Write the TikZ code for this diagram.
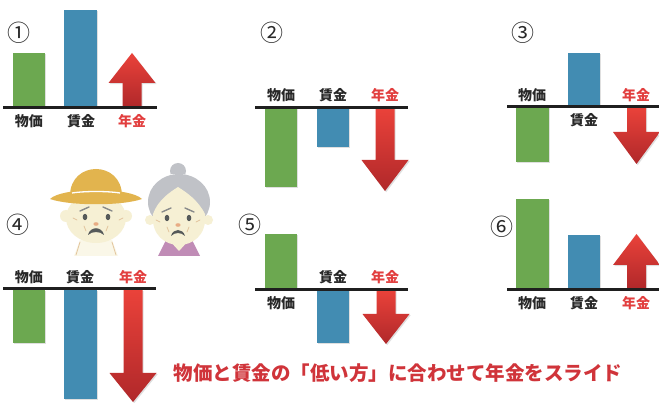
\documentclass[tikz,border=0pt]{standalone}
\usepackage{fontspec}
\setmainfont{Noto Sans CJK JP}
\usetikzlibrary{shadows}

\definecolor{bukkagreen}{RGB}{108,168,80}
\definecolor{chinginblue}{RGB}{66,140,178}
\definecolor{arrowtop}{RGB}{234,66,58}
\definecolor{arrowbot}{RGB}{176,40,42}
\definecolor{nenkinred}{RGB}{226,62,62}
\definecolor{slogred}{RGB}{208,52,58}
\definecolor{inkgray}{RGB}{40,40,40}
\definecolor{skin}{RGB}{246,240,212}
\definecolor{shirt}{RGB}{250,247,232}
\definecolor{hatyellow}{RGB}{226,180,78}
\definecolor{hairgray}{RGB}{192,194,199}
\definecolor{collarpurple}{RGB}{192,140,182}
\definecolor{eyegray}{RGB}{86,90,90}
\definecolor{nosetan}{RGB}{232,172,132}
\definecolor{wrinkle}{RGB}{226,196,156}

% pension arrow: centre x, start y, head base y, tip y
\def\nenkinarrow(#1,#2,#3,#4){\path[arrowbody] ({#1-9.5},#2) -- ({#1-9.5},#3) -- ({#1-23.5},#3) -- (#1,#4) -- ({#1+23.5},#3) -- ({#1+9.5},#3) -- ({#1+9.5},#2) -- cycle;}

\begin{document}
\begin{tikzpicture}[x=1pt,y=-1pt,
	lbl/.style={font=\bfseries\fontsize{14}{14}\selectfont, text=inkgray, inner sep=0pt},
	lblred/.style={lbl, text=nenkinred},
	num/.style={font=\fontsize{23}{23}\selectfont, text=inkgray, inner sep=0pt},
	slogan/.style={font=\bfseries\fontsize{19.5}{19.5}\selectfont, text=slogred, inner sep=0pt},
	axisline/.style={line width=3pt, color=black!88},
	barshadow/.style={drop shadow={shadow xshift=1.2pt, shadow yshift=-1.2pt, opacity=0.25}},
	bargreen/.style={fill=bukkagreen, barshadow},
	barblue/.style={fill=chinginblue, barshadow},
	arrowbody/.style={top color=arrowtop, bottom color=arrowbot, barshadow},
	brow/.style={line width=1.4pt, color=eyegray!70, line cap=round},
	lines/.style={line width=0.8pt, color=wrinkle, line cap=round}]
	%%%%% START %%%%%
	\fill[white] (0,0) rectangle (659,403);
	\useasboundingbox (0,0) rectangle (659,403);
	
	% (1) prices up, wages up more
	\node[num] (n1) at (19,33) {①};
	\fill[bargreen] (13,53) rectangle (45,107);
	\fill[barblue] (64,10) rectangle (97,107);
	\nenkinarrow(132,107,83,53)
	\draw[axisline] (3,108) -- (157,108);
	\node[lbl] (bukka1) at (29,121) {物価};
	\node[lbl] (chingin1) at (81,121) {賃金};
	\node[lblred] (nenkin1) at (132,121) {年金};
	
	% (2) both down
	\node[num] (n2) at (272,33) {②};
	\fill[bargreen] (265,108) rectangle (297,187);
	\fill[barblue] (317,108) rectangle (349,147);
	\nenkinarrow(385,108,160,191)
	\draw[axisline] (255,108) -- (408,108);
	\node[lbl] (bukka2) at (281,95) {物価};
	\node[lbl] (chingin2) at (333,95) {賃金};
	\node[lblred] (nenkin2) at (385,95) {年金};
	
	% (3) prices down, wages up
	\node[num] (n3) at (523,33) {③};
	\fill[bargreen] (516,107) rectangle (549,162);
	\fill[barblue] (568,53) rectangle (600,107);
	\nenkinarrow(636.5,107,132,164)
	\draw[axisline] (507,107) -- (660,107);
	\node[lbl] (bukka3) at (532,95) {物価};
	\node[lbl] (chingin3) at (584,120) {賃金};
	\node[lblred] (nenkin3) at (636,95) {年金};
	
	% (4) both down, wages more
	\node[num] (n4) at (18,225) {④};
	\fill[bargreen] (13,290) rectangle (45,343);
	\fill[barblue] (64,290) rectangle (97,399);
	\nenkinarrow(133,290,373,402)
	\draw[axisline] (3,289) -- (156,289);
	\node[lbl] (bukka4) at (29,277) {物価};
	\node[lbl] (chingin4) at (80,277) {賃金};
	\node[lblred] (nenkin4) at (133,277) {年金};
	
	% (5) prices up, wages down
	\node[num] (n5) at (250,225) {⑤};
	\fill[bargreen] (265,234) rectangle (297,289);
	\fill[barblue] (317,289) rectangle (349,343);
	\nenkinarrow(386,290,314,344)
	\draw[axisline] (255,290) -- (408,290);
	\node[lbl] (bukka5) at (281,303) {物価};
	\node[lbl] (chingin5) at (333,277) {賃金};
	\node[lblred] (nenkin5) at (385,277) {年金};
	
	% (6) prices up, wages up less
	\node[num] (n6) at (502,227) {⑥};
	\fill[bargreen] (516,199) rectangle (549,289);
	\fill[barblue] (568,235) rectangle (600,289);
	\nenkinarrow(636.5,289,265,234)
	\draw[axisline] (507,290) -- (660,290);
	\node[lbl] (bukka6) at (532,303) {物価};
	\node[lbl] (chingin6) at (584,303) {賃金};
	\node[lblred] (nenkin6) at (636,303) {年金};
	
	% old man with straw hat
	\fill[shirt] (74,256) -- (80,240) -- (112,240) -- (118,256) -- cycle;
	\draw[lines] (80,242) -- (76,255);
	\draw[lines] (112,242) -- (116,255);
	\fill[skin] (66,216) circle (6);
	\fill[skin] (126,216) circle (6);
	\fill[skin] (96,218) ellipse (30 and 25);
	\fill[hatyellow] (70,196) .. controls (70,160) and (122,160) .. (122,196) -- cycle;
	\fill[hatyellow] (50,199) .. controls (62,187) and (130,187) .. (142,199) .. controls (122,206) and (70,206) .. cycle;
	\draw[white, line width=1.3pt] (72,193) .. controls (85,191) and (107,191) .. (120,193);
	\draw[brow] (80,211) -- (89,207);
	\draw[brow] (103,207) -- (112,211);
	\fill[eyegray] (85,217) ellipse (2.3 and 3.2);
	\fill[eyegray] (108,217) ellipse (2.3 and 3.2);
	\fill[nosetan] (96,224) ellipse (2.6 and 1.8);
	\fill[eyegray] (88,235) .. controls (90,226) and (102,226) .. (104,235) .. controls (100,231) and (92,231) .. cycle;
	\draw[lines] (84,226) -- (86,231);
	\draw[lines] (108,226) -- (106,231);
	\draw[lines] (73,218) -- (77,220);
	\draw[lines] (119,220) -- (123,218);
	
	% old woman with bun
	\fill[collarpurple] (158,256) -- (166,240) -- (192,240) -- (200,256) -- cycle;
	\fill[skin] (169,240) -- (189,240) -- (179,251) -- cycle;
	\fill[hairgray] (178,171) circle (8);
	\draw[white, line width=1.3pt] (171,175) -- (185,175);
	\fill[hairgray] (179,202) ellipse (31 and 28);
	\fill[skin] (150,220) circle (5);
	\fill[skin] (208,220) circle (5);
	\fill[skin] (153,214) .. controls (158,200) and (170,192) .. (178,187) .. controls (186,192) and (198,200) .. (205,214) .. controls (207,236) and (192,245) .. (179,245) .. controls (166,245) and (151,236) .. cycle;
	\draw[brow] (162,212) -- (171,208);
	\draw[brow] (185,208) -- (194,212);
	\fill[eyegray] (167,218) ellipse (2.3 and 3.2);
	\fill[eyegray] (189,218) ellipse (2.3 and 3.2);
	\fill[nosetan] (178,225) ellipse (2.6 and 1.8);
	\fill[eyegray] (171,236) .. controls (173,228) and (183,228) .. (185,236) .. controls (181,232) and (175,232) .. cycle;
	\draw[lines] (167,227) -- (169,232);
	\draw[lines] (189,227) -- (187,232);
	\draw[lines] (156,220) -- (160,222);
	\draw[lines] (196,222) -- (200,220);
	
	\node[slogan] (slide) at (398,373) {物価と賃金の「低い方」に合わせて年金をスライド};
	%%%%% END %%%%%
\end{tikzpicture}
\end{document}
